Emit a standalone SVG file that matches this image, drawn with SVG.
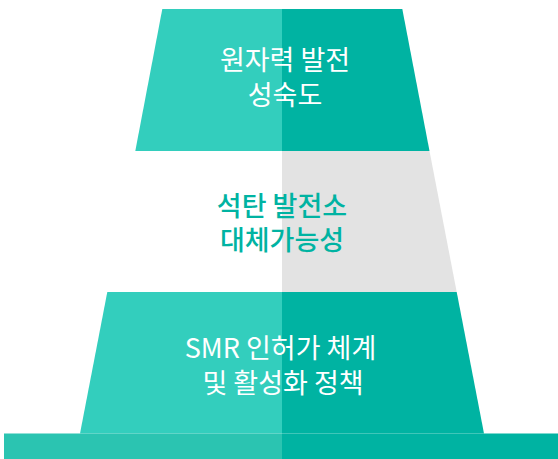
<svg xmlns="http://www.w3.org/2000/svg" width="558" height="459" viewBox="0 0 558 459">
  <style>
    .light { fill: #33CEBD; }
    .dark { fill: #00B3A2; }
    .gray { fill: #E3E3E3; }
    .baseL { fill: #2BC4B1; }
    text { font-family: "Noto Sans CJK KR", "Noto Sans", sans-serif; font-size: 27px; text-anchor: middle; }
    .w { fill: #FFFFFF; }
    .t { fill: #00B3A2; font-weight: 500; }
  </style>
  <rect width="558" height="459" fill="#FFFFFF"/>
  <g id="tier-top">
    <polygon class="light" points="162.3,9 282,9 282,151 135.3,151"/>
    <polygon class="dark" points="282,9 402.3,9 429.5,151 282,151"/>
    <text class="w"><tspan x="285" y="70">원자력 발전</tspan><tspan x="285" y="105">성숙도</tspan></text>
  </g>
  <g id="tier-middle">
    <polygon class="gray" points="282,151 429.5,151 456.7,292 282,292"/>
    <text class="t"><tspan x="282" y="216">석탄 발전소</tspan><tspan x="282" y="250">대체가능성</tspan></text>
  </g>
  <g id="tier-bottom">
    <polygon class="light" points="107.3,292 282,292 282,433.5 80,433.5"/>
    <polygon class="dark" points="282,292 456.7,292 484,433.5 282,433.5"/>
    <text class="w"><tspan x="280.5" y="358">SMR 인허가 체계</tspan><tspan x="283" y="393">및 활성화 정책</tspan></text>
  </g>
  <g id="base">
    <rect class="baseL" x="4" y="433.5" width="278" height="25.5"/>
    <rect class="dark" x="282" y="433.5" width="276" height="25.5"/>
  </g>
  <g id="connectors"/>
</svg>
